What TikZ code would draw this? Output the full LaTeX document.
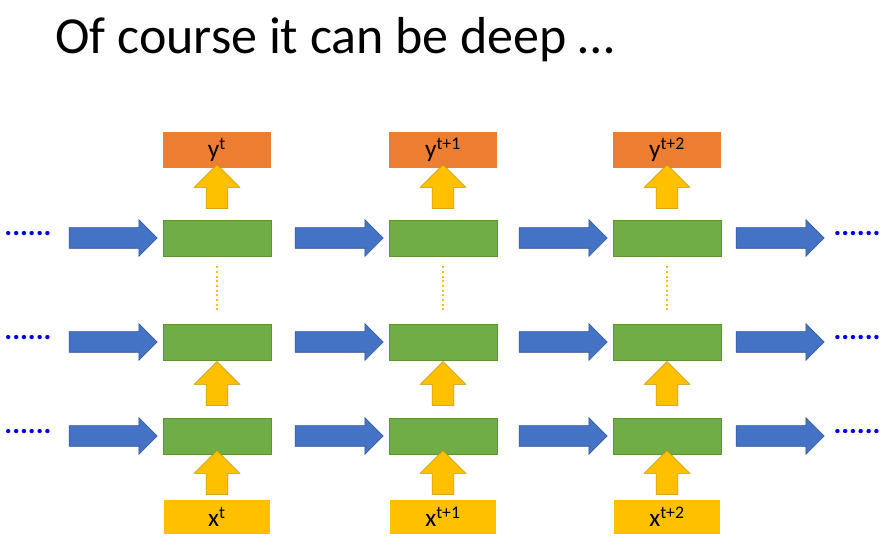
\documentclass[tikz,border=0pt]{standalone}
\usepackage{fontspec}
\setmainfont{Carlito}
\usetikzlibrary{shapes.arrows}
\tikzset{every picture/.style={line width=0.75pt}}
\tikzset{
  cell/.style={draw={rgb,255:red,90;green,150;blue,50},line width=0.4pt,fill={rgb,255:red,112;green,173;blue,71},minimum width=81pt,minimum height=27pt,inner sep=0pt},
  outbox/.style={fill={rgb,255:red,237;green,125;blue,49},minimum width=81pt,minimum height=27pt,inner sep=0pt,font=\fontsize{19}{19}\selectfont},
  inbox/.style={fill={rgb,255:red,255;green,192;blue,0},minimum width=80pt,minimum height=26pt,inner sep=0pt,font=\fontsize{19}{19}\selectfont},
  harrow/.style={single arrow,fill={rgb,255:red,68;green,114;blue,196},draw={rgb,255:red,47;green,82;blue,143},line width=0.4pt,inner xsep=0pt,inner ysep=7.5pt,minimum width=27pt,minimum height=66pt,single arrow head extend=6pt},
  uparrow/.style={single arrow,shape border rotate=90,fill={rgb,255:red,255;green,192;blue,0},draw={rgb,255:red,191;green,144;blue,0},line width=0.4pt,inner xsep=8pt,inner ysep=0pt,minimum width=34pt,minimum height=33pt,single arrow head extend=9pt},
  dots/.style={text={rgb,255:red,0;green,0;blue,230},font=\fontsize{22}{22}\selectfont\bfseries}
}
\begin{document}
\begin{tikzpicture}[x=0.75pt,y=0.75pt,yscale=-1,xscale=1]
    \useasboundingbox (0,0) rectangle (890,555);
    % title
    \node (title) [anchor=west,inner sep=0pt,font=\fontsize{39}{39}\selectfont] at (55,40) {Of course it can be deep \dots};
    % columns
    \foreach \c/\x/\s in {1/217/t,2/443/t+1,3/667/t+2} {
      \node (out\c) [outbox] at (\x,150) {y\textsuperscript{\s}};
      \node (top\c) [cell] at (\x,238) {};
      \node (mid\c) [cell] at (\x,342) {};
      \node (bot\c) [cell] at (\x,436) {};
      \node (in\c) [inbox] at (\x,517) {x\textsuperscript{\s}};
      \node (ua\c) [uparrow] at (\x,192) {};
      \node (ub\c) [uparrow] at (\x,389) {};
      \node (uc\c) [uparrow] at (\x,478) {};
      \draw [dotted,line width=1.5pt,color={rgb,255:red,255;green,192;blue,0}] (top\c.south) ++(0,10) -- ++(0,46);
    }
    % horizontal arrows
    \foreach \y/\r in {238/1,342/2,436/3} {
      \foreach \x in {108,334,558,775} {
        \node [harrow] at (\x,\y) {};
      }
      \node (l\r) [dots] at (28,\y-4) {......};
      \node (r\r) [dots] at (857,\y-4) {......};
    }
\end{tikzpicture}
\end{document}
